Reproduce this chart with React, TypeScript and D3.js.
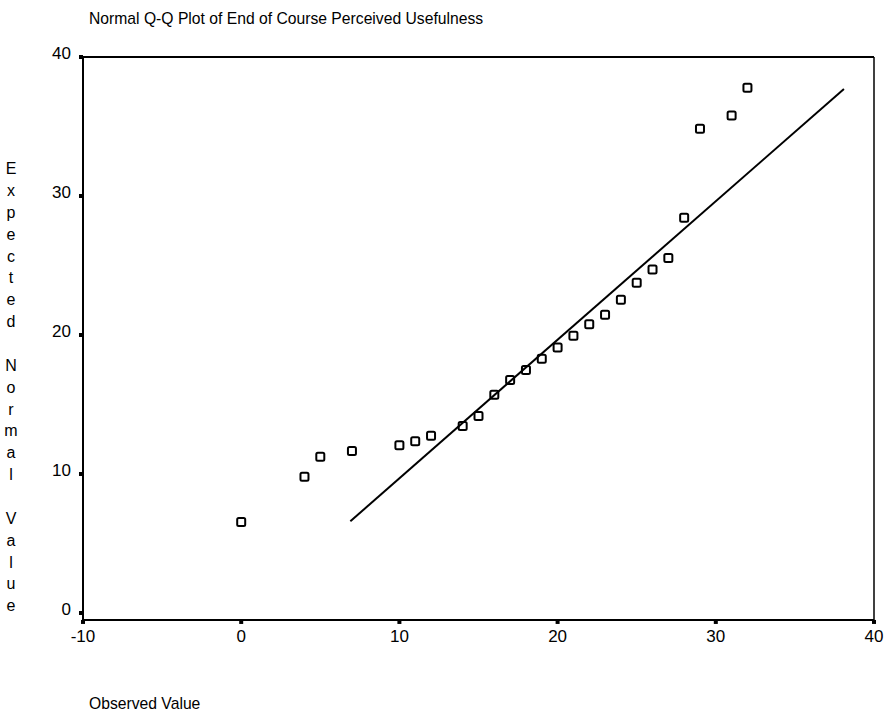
import React from "react";
import * as d3 from "d3";

const title = "Normal Q-Q Plot of End of Course Perceived Usefulness";
const xAxisTitle = "Observed Value";
const yAxisTitle = "Expected Normal Value";

const observed = [0, 4, 5, 7, 10, 11, 12, 14, 15, 16, 17, 18, 19, 20, 21, 22, 23, 24, 25, 26, 27, 28, 29, 31, 32];
const expected = [6.55, 9.8, 11.24, 11.65, 12.06, 12.35, 12.76, 13.45, 14.17, 15.7, 16.76, 17.48, 18.3, 19.1, 19.95, 20.77, 21.46, 22.54, 23.76, 24.72, 25.54, 28.44, 34.84, 35.8, 37.79];

const refLineX = [6.9, 38.1];
const refLineY = [6.6, 37.7];

const xTicks = [-10, 0, 10, 20, 30, 40];
const yTicks = [0, 10, 20, 30, 40];

const W = 888;
const H = 719;

export default function App() {
  const x = d3.scaleLinear().domain([-10, 40]).range([83, 874]);
  const y = d3.scaleLinear().domain([0, 40]).range([613, 57]);
  const frameTop = y(40);
  const frameBottom = y(-0.5);
  const frameLeft = x(-10);
  const frameRight = x(40);
  const font = "'Liberation Sans', Arial, sans-serif";

  const line = d3
    .line<number>()
    .x((_, i) => x(refLineX[i]))
    .y((_, i) => y(refLineY[i]));

  // vertical stacked y-axis title
  const letters: { ch: string; row: number }[] = [];
  let row = 0;
  yAxisTitle.split(" ").forEach((word, wi) => {
    if (wi > 0) row += 1;
    for (const ch of word) {
      letters.push({ ch, row });
      row += 1;
    }
  });
  const nRows = row - 1;
  const letterTop = 170;
  const letterBottom = 607;
  const step = (letterBottom - letterTop) / nRows;

  const sq = 8;

  return (
    <svg
      width={W}
      height={H}
      style={{ position: "absolute", left: 0, top: 0, background: "#fff" }}
      fontFamily={font}
    >
      <rect x={0} y={0} width={W} height={H} fill="#fff" />
      <text x={89} y={24} fontSize={15.7} fill="#000">
        {title}
      </text>

      {/* frame */}
      <line x1={frameLeft} x2={frameRight} y1={frameTop} y2={frameTop} stroke="#000" strokeWidth={1.8} />
      <line x1={frameRight} x2={frameRight} y1={frameTop} y2={frameBottom} stroke="#000" strokeWidth={1.5} />
      <line x1={frameLeft} x2={frameLeft} y1={frameTop} y2={frameBottom} stroke="#000" strokeWidth={2} />
      <line x1={frameLeft} x2={frameRight} y1={frameBottom} y2={frameBottom} stroke="#000" strokeWidth={2} />

      {/* y ticks */}
      {yTicks.map((t) => (
        <g key={"y" + t}>
          <rect x={frameLeft - 4} y={y(t) - 2} width={4} height={4} fill="#000" />
          <text
            x={71}
            y={y(t) - 2}
            textAnchor="end"
            dominantBaseline="middle"
            fontSize={17}
            fill="#000"
          >
            {t}
          </text>
        </g>
      ))}

      {/* x ticks */}
      {xTicks.map((t) => (
        <g key={"x" + t}>
          <rect x={x(t) - 2} y={frameBottom} width={4} height={4} fill="#000" />
          <text
            x={x(t)}
            y={638}
            textAnchor="middle"
            dominantBaseline="middle"
            fontSize={17}
            fill="#000"
          >
            {t}
          </text>
        </g>
      ))}

      {/* reference line */}
      <path d={line(refLineX) || ""} fill="none" stroke="#000" strokeWidth={2} />

      {/* points */}
      {observed.map((o, i) => (
        <rect
          key={i}
          x={x(o) - sq / 2}
          y={y(expected[i]) - sq / 2}
          width={sq}
          height={sq}
          rx={1.5}
          fill="none"
          stroke="#000"
          strokeWidth={2}
        />
      ))}

      {/* y axis title (stacked) */}
      {letters.map((l, i) => (
        <text
          key={"l" + i}
          x={11}
          y={letterTop + l.row * step}
          textAnchor="middle"
          dominantBaseline="middle"
          fontSize={16}
          fill="#000"
        >
          {l.ch}
        </text>
      ))}

      <text x={89} y={709} fontSize={15.7} fill="#000">
        {xAxisTitle}
      </text>
    </svg>
  );
}
